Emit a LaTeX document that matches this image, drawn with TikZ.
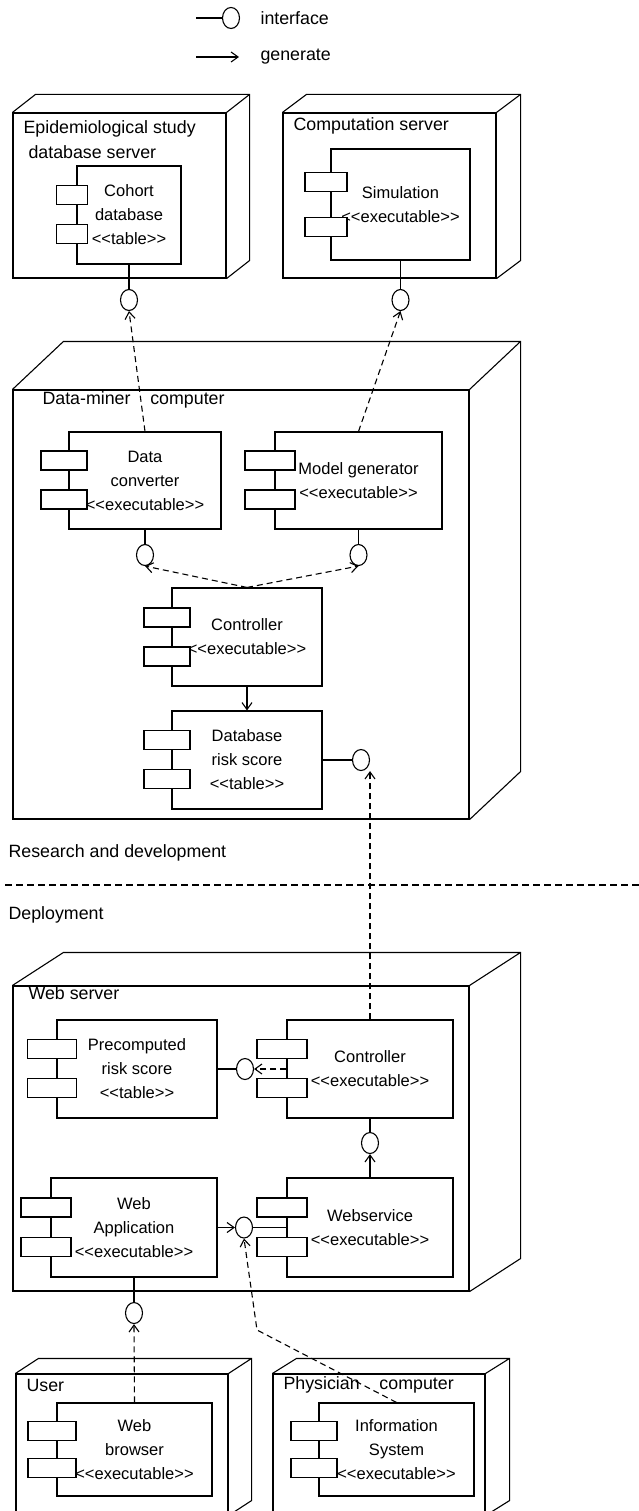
\documentclass[tikz,border=0pt]{standalone}
\usepackage{fontspec}
\setmainfont{Liberation Sans}
\usepackage{tikz}
\usetikzlibrary{shapes,arrows.meta,calc}

\newcommand{\stereo}[1]{<\kern0pt<#1>\kern0pt>}

\begin{document}
\begin{tikzpicture}[x=1pt, y=-1pt, line width=1.1pt,
    >={Straight Barb[length=7pt,width=10pt]},
    device/.style={draw, inner sep=0},
    comp/.style={draw, fill=white, align=center, inner sep=0, font=\fontsize{16.5}{24}\selectfont},
    port/.style={draw, fill=white, minimum height=19, inner sep=0},
    iface/.style={draw, ellipse, fill=white, minimum width=17, minimum height=21, inner sep=0},
    lbl/.style={anchor=west, inner sep=0, align=left, font=\fontsize{17.8}{25}\selectfont},
    depend/.style={dash pattern=on 6pt off 4pt}]
            \useasboundingbox (0,0) rectangle (639,1511);

            % Legend
            \coordinate (leg1) at (196,18);
            \node[iface] (legi) at (231,18) {};
            \draw (leg1) -- (legi);
            \node[lbl] (legt1) at (260,18) {interface};
            \coordinate (leg2) at (196,57);
            \coordinate (leg3) at (239,57);
            \draw[->] (leg2) -- (leg3);
            \node[lbl] (legt2) at (260,57) {generate};

            % Devices
            \node[device, minimum width=213, minimum height=165] (epi) at (119.5,195.5) {};
            \node[device, minimum width=213, minimum height=165] (comp) at (389.5,195.5) {};
            \node[device, minimum width=456, minimum height=429] (dm) at (241,604.5) {};
            \node[device, minimum width=456, minimum height=305] (web) at (241,1138.5) {};
            \node[device, minimum width=212, minimum height=141] (user) at (122,1444.5) {};
            \node[device, minimum width=212, minimum height=141] (phys) at (379,1444.5) {};
            \foreach \n/\dx/\dy in {epi/23/-18, comp/24/-18, dm/51/-48, web/51/-33, user/23/-15, phys/24/-15}
                \draw (\n.north west) -- ++(\dx,\dy) -- ($(\n.north east)+(\dx,\dy)$)
                      -- ($(\n.south east)+(\dx,\dy)$) -- (\n.south east)
                      (\n.north east) -- ++(\dx,\dy);

            \node[lbl] (epi-l) at (23,139.5) {Epidemiological study\\\hspace*{5pt}database server};
            \node[lbl] (comp-l) at (293,126) {Computation server};
            \node[lbl] (dm-l) at (42,400) {Data-miner~~~~computer};
            \node[lbl] (web-l) at (28,993) {Web server};
            \node[lbl] (user-l) at (26,1385) {User};
            \node[lbl] (phys-l) at (283,1385) {Physician~~~~computer};

            % Components
            \node[comp, minimum width=104, minimum height=98] (cohort) at (129,215) {Cohort\\database\\\stereo{table}};
            \node[comp, minimum width=139, minimum height=111] (sim) at (400.5,204.5) {Simulation\\\stereo{executable}};
            \node[comp, minimum width=152, minimum height=97] (dconv) at (145,480.5) {Data\\converter\\\stereo{executable}};
            \node[comp, minimum width=167, minimum height=97] (model) at (358.5,480.5) {Model generator\\\stereo{executable}};
            \node[comp, minimum width=150, minimum height=98] (ctrl) at (247,637) {Controller\\\stereo{executable}};
            \node[comp, minimum width=150, minimum height=98] (db) at (247,760) {Database\\risk score\\\stereo{table}};
            \node[comp, minimum width=160, minimum height=98] (pre) at (137,1069) {Precomputed\\risk score\\\stereo{table}};
            \node[comp, minimum width=166, minimum height=98] (ctrlw) at (370,1069) {Controller\\\stereo{executable}};
            \node[comp, minimum width=166, minimum height=99] (app) at (134,1227.5) {Web\\Application\\\stereo{executable}};
            \node[comp, minimum width=166, minimum height=99] (ws) at (370,1227.5) {Webservice\\\stereo{executable}};
            \node[comp, minimum width=155, minimum height=93] (wb) at (134.5,1449.5) {Web\\browser\\\stereo{executable}};
            \node[comp, minimum width=155, minimum height=93] (info) at (396.5,1449.5) {Information\\System\\\stereo{executable}};

            % Ports
            \foreach \nd/\w/\ya/\yb in {cohort/31/30/69, sim/42/33.5/78.5, dconv/46/29/68, model/50/29/68,
                    ctrl/46/30/69, db/46/29.5/68.5, pre/49/29.5/68.5, ctrlw/50/29.5/68.5,
                    app/50/30/69.5, ws/50/30/69.5, wb/48/28.5/65.5, info/46/28.5/65.5} {
                \node[port, minimum width=\w] (\nd-p1) at ($(\nd.north west)+(-4.5,\ya)$) {};
                \node[port, minimum width=\w] (\nd-p2) at ($(\nd.north west)+(-4.5,\yb)$) {};
            }

            % Interfaces
            \node[iface] (i-cohort) at (129,300) {};
            \node[iface] (i-sim) at (400.5,300) {};
            \node[iface] (i-dconv) at (145,555) {};
            \node[iface] (i-model) at (358.5,555) {};
            \node[iface] (i-db) at (361,760) {};
            \node[iface] (i-pre) at (245,1069) {};
            \node[iface] (i-ctrlw) at (370,1143) {};
            \node[iface] (i-ws) at (244,1227.5) {};
            \node[iface] (i-app) at (134,1313) {};
            \draw (cohort.south) -- (i-cohort.north);
            \draw (sim.south) -- (i-sim.north);
            \draw (dconv.south) -- (i-dconv.north);
            \draw (model.south) -- (i-model.north);
            \draw (db.east) -- (i-db.west);
            \draw (pre.east) -- (i-pre.west);
            \draw (ctrlw.south) -- (i-ctrlw.north);
            \draw (ws.west) -- (i-ws.east);
            \draw (app.south) -- (i-app.north);

            % Arrows
            \draw[depend,->] (dconv.north) -- (i-cohort.south);
            \draw[depend,->] (model.north) -- (i-sim.south);
            \draw[depend,->] (ctrl.north) -- (i-dconv.south);
            \draw[depend,->] (ctrl.north) -- (i-model.south);
            \draw[->] (ctrl.south) -- (db.north);
            \draw[depend,->] (ctrlw.north) -- (ctrlw.north |- i-db.south);
            \draw[depend,->] (ctrlw.west) -- (i-pre.east);
            \draw[->] (ws.north) -- (i-ctrlw.south);
            \draw[->] (app.east) -- (i-ws.west);
            \draw[depend,->] (wb.north) -- (i-app.south);
            \coordinate (bend) at (257,1330);
            \draw[depend,->] (info.north) -- (bend) -- (i-ws.south);

            % Separator
            \node[lbl] (rd) at (8,853) {Research and development};
            \coordinate (sep-l) at (5,885);
            \coordinate (sep-r) at (639,885);
            \draw[dash pattern=on 7pt off 4pt] (sep-l) -- (sep-r);
            \node[lbl] (deploy) at (8,915) {Deployment};
        \end{tikzpicture}
\end{document}
